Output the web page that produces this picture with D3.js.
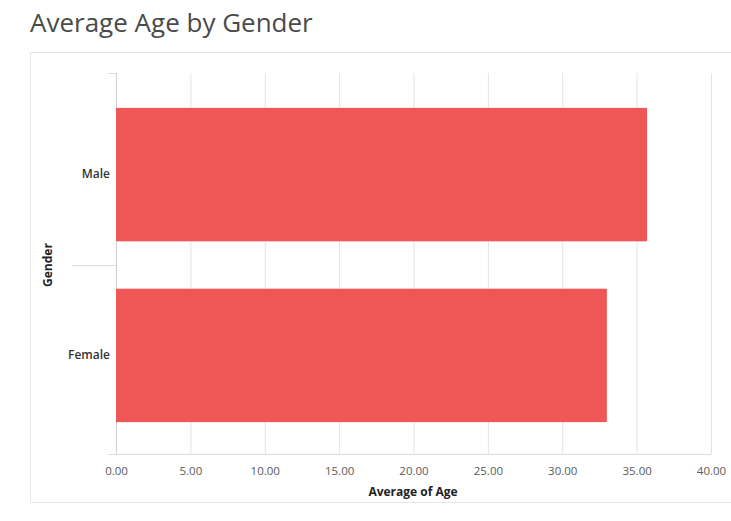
<!DOCTYPE html>
<html>
<head>
<meta charset="utf-8">
<script src="https://cdn.jsdelivr.net/npm/d3@7"></script>
<style>
  html, body { margin: 0; padding: 0; background: #ffffff; }
  svg { display: block; }
</style>
</head>
<body>
<script>
// Data
const categories = ["Male", "Female"];
const averageAge = [35.7, 33.0];
const xTicks = [0, 5, 10, 15, 20, 25, 30, 35, 40];

const W = 731, H = 521;
const FONT = "'Open Sans', sans-serif";
const svg = d3.select("body").append("svg").attr("width", W).attr("height", H);

// Card panel
svg.append("rect")
  .attr("x", 30.5).attr("y", 52.5)
  .attr("width", 720).attr("height", 450)
  .attr("fill", "#ffffff")
  .attr("stroke", "#e6e6e6").attr("stroke-width", 1);

// Title
svg.append("text")
  .attr("x", 30).attr("y", 32)
  .attr("font-family", FONT)
  .attr("font-size", 26)
  .attr("fill", "#4a4a4a")
  .text("Average Age by Gender");

const plot = { left: 116, right: 711, top: 73, bottom: 454 };

const x = d3.scaleLinear().domain([0, 40]).range([plot.left, plot.right]);
const y = d3.scaleBand().domain(categories)
  .range([plot.top, 457])
  .paddingInner(0.262).paddingOuter(0.193);

// Vertical gridlines
svg.append("g").selectAll("line").data(xTicks).join("line")
  .attr("x1", d => x(d) + 0.5).attr("x2", d => x(d) + 0.5)
  .attr("y1", plot.top).attr("y2", plot.bottom)
  .attr("stroke", d => d === 0 ? "#cfcfcf" : "#e3e3e3")
  .attr("stroke-width", 1);

// Category boundary ticks on the left
const bounds = [plot.top, (y("Male") + y.bandwidth() + y("Female")) / 2, plot.bottom];
svg.append("g").selectAll("line").data(bounds).join("line")
  .attr("x1", (d, i) => i === 1 ? 72 : 108).attr("x2", plot.left)
  .attr("y1", d => Math.round(d) + 0.5).attr("y2", d => Math.round(d) + 0.5)
  .attr("stroke", "#dcdcdc");

// Bottom axis baseline
svg.append("line")
  .attr("x1", 108).attr("x2", plot.right)
  .attr("y1", plot.bottom + 0.5).attr("y2", plot.bottom + 0.5)
  .attr("stroke", "#dcdcdc");

// Bars
svg.append("g").selectAll("rect")
  .data(categories.map((c, i) => ({ c, v: averageAge[i] })))
  .join("rect")
  .attr("x", x(0))
  .attr("y", d => y(d.c))
  .attr("width", d => x(d.v) - x(0))
  .attr("height", y.bandwidth())
  .attr("fill", "#ef5757");

// X axis tick labels
const xAxis = d3.axisBottom(x).tickValues(xTicks).tickFormat(d3.format(".2f")).tickSize(0).tickPadding(0);
const gx = svg.append("g").attr("transform", `translate(0,${plot.bottom + 21})`).call(xAxis);
gx.select(".domain").remove();
gx.selectAll("text")
  .attr("dy", 0)
  .attr("font-family", FONT)
  .attr("font-size", 11.5)
  .attr("fill", "#5a5a5a");

// Y axis category labels
const yAxis = d3.axisLeft(y).tickSize(0).tickPadding(6);
const gy = svg.append("g").attr("transform", `translate(${plot.left},0)`).call(yAxis);
gy.select(".domain").remove();
gy.selectAll("text")
  .attr("font-family", FONT)
  .attr("font-size", 12)
  .attr("font-weight", 600)
  .attr("fill", "#333");

// Axis titles
svg.append("text")
  .attr("x", 413).attr("y", 496)
  .attr("text-anchor", "middle")
  .attr("font-family", FONT)
  .attr("font-size", 12).attr("font-weight", 700)
  .attr("fill", "#222")
  .text("Average of Age");

svg.append("text")
  .attr("transform", `translate(52,265) rotate(-90)`)
  .attr("text-anchor", "middle")
  .attr("font-family", FONT)
  .attr("font-size", 12).attr("font-weight", 700)
  .attr("fill", "#222")
  .text("Gender");
</script>
</body>
</html>
